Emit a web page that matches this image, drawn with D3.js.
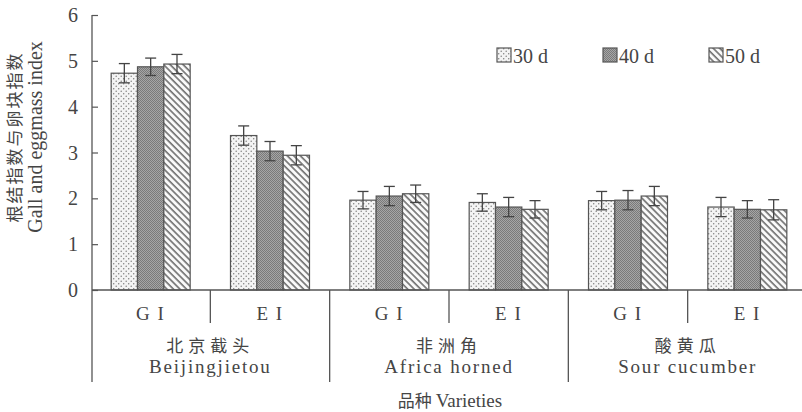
<!DOCTYPE html>
<html>
<head>
<meta charset="utf-8">
<script src="https://cdn.jsdelivr.net/npm/d3@7/dist/d3.min.js"></script>
<style>
  html, body { margin: 0; padding: 0; background: #fff; }
  svg { display: block; }
  text { fill: #454545; }
  .serif { font-family: "Liberation Serif", "Times New Roman", serif; }
  .cjk { font-family: "Noto Sans CJK SC", sans-serif; }
</style>
</head>
<body>
<script>
// Gall index (GI) and egg-mass index (EI) of three cucumber varieties at 30/40/50 days
const varietiesZh = ["北京截头", "非洲角", "酸黄瓜"];
const varietiesEn = ["Beijingjietou", "Africa horned", "Sour cucumber"];
const indices = ["G I", "E I"];
const seriesNames = ["30 d", "40 d", "50 d"];

// one value per variety/index pair: BJ-GI, BJ-EI, AF-GI, AF-EI, SC-GI, SC-EI
const values30 = [4.73, 3.37, 1.96, 1.91, 1.95, 1.81];
const values40 = [4.87, 3.03, 2.05, 1.81, 1.96, 1.76];
const values50 = [4.93, 2.94, 2.10, 1.76, 2.05, 1.75];
const errors30 = [0.21, 0.21, 0.19, 0.19, 0.20, 0.21];
const errors40 = [0.19, 0.21, 0.21, 0.21, 0.21, 0.19];
const errors50 = [0.21, 0.21, 0.19, 0.19, 0.21, 0.22];

const yTicks = [0, 1, 2, 3, 4, 5, 6];

const W = 802, H = 412;
const svg = d3.select("body").append("svg").attr("width", W).attr("height", H);

const categories = [];
varietiesZh.forEach((v, i) => indices.forEach(ix => categories.push(i + "|" + ix)));

const seriesValues = [values30, values40, values50];
const seriesErrors = [errors30, errors40, errors50];

const x = d3.scaleBand().domain(categories).range([91, 807]).paddingInner(0.338).paddingOuter(0.169);
const xs = d3.scaleBand().domain(seriesNames).range([0, x.bandwidth()]);
const y = d3.scaleLinear().domain([0, 6]).range([290, 15]);

// fill patterns
const defs = svg.append("defs");
const dots = defs.append("pattern").attr("id", "p30").attr("patternUnits", "userSpaceOnUse")
  .attr("width", 5).attr("height", 5);
dots.append("rect").attr("width", 5).attr("height", 5).attr("fill", "#f4f4f4");
dots.append("circle").attr("cx", 1.2).attr("cy", 1.2).attr("r", 0.75).attr("fill", "#808080");
dots.append("circle").attr("cx", 3.7).attr("cy", 3.7).attr("r", 0.75).attr("fill", "#808080");

const dense = defs.append("pattern").attr("id", "p40").attr("patternUnits", "userSpaceOnUse")
  .attr("width", 2).attr("height", 2);
dense.append("rect").attr("width", 2).attr("height", 2).attr("fill", "#a6a6a6");
dense.append("rect").attr("width", 1).attr("height", 1).attr("fill", "#7a7a7a");
dense.append("rect").attr("x", 1).attr("y", 1).attr("width", 1).attr("height", 1).attr("fill", "#7a7a7a");

const hatch = defs.append("pattern").attr("id", "p50").attr("patternUnits", "userSpaceOnUse")
  .attr("width", 4.6).attr("height", 4.6).attr("patternTransform", "rotate(-45)");
hatch.append("rect").attr("width", 4.6).attr("height", 4.6).attr("fill", "#fafafa");
hatch.append("line").attr("x1", 1).attr("y1", 0).attr("x2", 1).attr("y2", 4.6)
  .attr("stroke", "#5a5a5a").attr("stroke-width", 1.4);

const fills = ["url(#p30)", "url(#p40)", "url(#p50)"];

// bars
const bars = [];
categories.forEach((c, ci) => {
  seriesNames.forEach((s, si) => {
    bars.push({ c, s, si, v: seriesValues[si][ci], e: seriesErrors[si][ci] });
  });
});

svg.append("g").selectAll("rect").data(bars).join("rect")
  .attr("x", d => x(d.c) + xs(d.s))
  .attr("y", d => y(d.v))
  .attr("width", xs.bandwidth())
  .attr("height", d => y(0) - y(d.v))
  .attr("fill", d => fills[d.si])
  .attr("stroke", "#555")
  .attr("stroke-width", 1.2);

// error bars
const eg = svg.append("g").attr("stroke", "#444").attr("stroke-width", 1.3);
bars.forEach(d => {
  const cx = x(d.c) + xs(d.s) + xs.bandwidth() / 2;
  eg.append("line").attr("x1", cx).attr("x2", cx).attr("y1", y(d.v + d.e)).attr("y2", y(d.v - d.e));
  eg.append("line").attr("x1", cx - 5.5).attr("x2", cx + 5.5).attr("y1", y(d.v + d.e)).attr("y2", y(d.v + d.e));
  eg.append("line").attr("x1", cx - 5.5).attr("x2", cx + 5.5).attr("y1", y(d.v - d.e)).attr("y2", y(d.v - d.e));
});

// y axis: ticks point inward
const yAxis = svg.append("g").attr("transform", "translate(92,0)")
  .call(d3.axisRight(y).tickValues(yTicks).tickSize(6).tickFormat(""));
yAxis.select(".domain").remove();
yAxis.selectAll("line").attr("stroke", "#555").attr("stroke-width", 1.2);
svg.append("line").attr("x1", 92).attr("x2", 92).attr("y1", y(6)).attr("y2", 382)
  .attr("stroke", "#555").attr("stroke-width", 1.3);
svg.append("g").selectAll("text").data(yTicks).join("text")
  .attr("class", "serif").attr("x", 78).attr("y", d => y(d)).attr("dy", "0.35em")
  .attr("text-anchor", "end").attr("font-size", 20).text(d => d);

// x axis line
svg.append("line").attr("x1", 92).attr("x2", W).attr("y1", y(0)).attr("y2", y(0))
  .attr("stroke", "#555").attr("stroke-width", 1.3);

// separators below the axis: short between GI/EI, long between varieties
const step = x.step();
categories.forEach((c, ci) => {
  if (ci === 0) return;
  const bx = x(c) - step * x.paddingInner() / 2;
  const long = ci % 2 === 0;
  svg.append("line").attr("x1", bx).attr("x2", bx).attr("y1", y(0)).attr("y2", long ? 382 : 323)
    .attr("stroke", "#555").attr("stroke-width", 1.3);
});

// index labels
svg.append("g").selectAll("text").data(categories).join("text")
  .attr("class", "serif").attr("x", d => x(d) + x.bandwidth() / 2).attr("y", 320)
  .attr("text-anchor", "middle").attr("font-size", 19).attr("letter-spacing", "1.5px")
  .text(d => d.split("|")[1]);

// variety labels
varietiesZh.forEach((v, i) => {
  const cx = (x(i + "|G I") + x(i + "|E I") + x.bandwidth()) / 2;
  svg.append("text").attr("class", "cjk").attr("x", cx).attr("y", 352)
    .attr("text-anchor", "middle").attr("font-size", 17).attr("letter-spacing", "5px").text(v);
  svg.append("text").attr("class", "serif").attr("x", cx).attr("y", 373)
    .attr("text-anchor", "middle").attr("font-size", 19).attr("letter-spacing", "1.8px").text(varietiesEn[i]);
});

// x title
const xt = svg.append("text").attr("x", 450).attr("y", 407).attr("text-anchor", "middle").attr("font-size", 19);
xt.append("tspan").attr("class", "cjk").attr("font-size", 17).text("品种 ");
xt.append("tspan").attr("class", "serif").text("Varieties");

// y title (two rotated lines)
svg.append("text").attr("class", "cjk").attr("transform", "translate(21,137) rotate(-90)")
  .attr("text-anchor", "middle").attr("font-size", 17).attr("letter-spacing", "2px").text("根结指数与卵块指数");
svg.append("text").attr("class", "serif").attr("transform", "translate(42,137) rotate(-90)")
  .attr("text-anchor", "middle").attr("font-size", 20).text("Gall and eggmass index");

// legend
const legX = [497, 603, 709];
seriesNames.forEach((s, i) => {
  svg.append("rect").attr("x", legX[i]).attr("y", 48).attr("width", 14).attr("height", 14)
    .attr("fill", fills[i]).attr("stroke", "#555").attr("stroke-width", 1.2);
  svg.append("text").attr("class", "serif").attr("x", legX[i] + 16).attr("y", 63)
    .attr("font-size", 20).text(s);
});
</script>
</body>
</html>
